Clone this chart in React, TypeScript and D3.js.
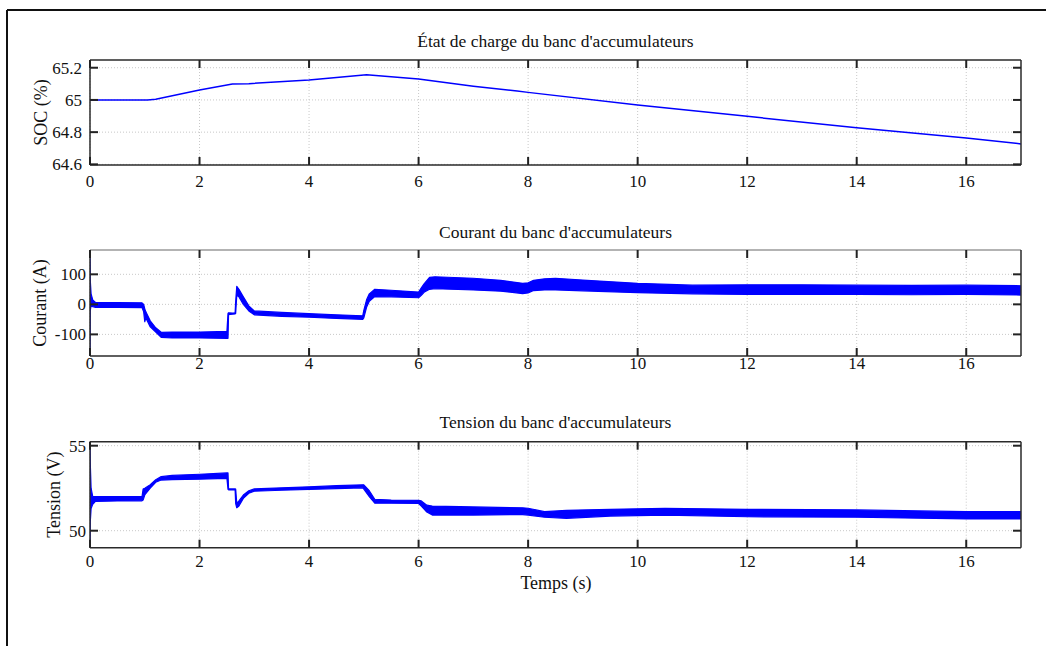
import React from "react";
import * as d3 from "d3";

// ---------- Data ----------
const xTicks = [0, 2, 4, 6, 8, 10, 12, 14, 16];

// SOC (%)
const socTime = [0, 1.05, 1.2, 2, 2.6, 2.9, 4, 5.05, 6, 7, 7.8, 8, 10, 12, 14, 16, 17];
const socValue = [65.0, 65.0, 65.005, 65.062, 65.099, 65.101, 65.124, 65.157, 65.13, 65.085, 65.055, 65.047, 64.969, 64.898, 64.828, 64.764, 64.727];
const socTicks = [64.6, 64.8, 65, 65.2];
const socTickLabels = ["64.6", "64.8", "65", "65.2"];

// Current (A): envelope of the noisy signal
const curTime = [0, 0.005, 0.02, 0.05, 0.1, 0.5, 0.95, 0.98, 1.0, 1.02, 1.1, 1.2, 1.3, 1.5, 2.0, 2.5, 2.52, 2.53, 2.6, 2.65, 2.66, 2.68, 2.72, 2.8, 2.9, 3.0, 3.5, 4.0, 4.5, 4.98, 5.0, 5.05, 5.1, 5.2, 5.5, 6.0, 6.05, 6.1, 6.2, 6.3, 7.0, 7.5, 7.9, 8.0, 8.1, 8.3, 8.5, 9.0, 10.0, 11.0, 12.0, 13.0, 14.0, 15.0, 16.0, 17.0];
const curLow = [-172, -20, -5, -8, -10, -10, -11, -25, -58, -45, -75, -92, -110, -112, -112, -113, -113, -34, -33, -32, -30, 30, 25, 0, -22, -35, -40, -43, -47, -50, -45, -10, 10, 26, 25, 22, 30, 40, 50, 52, 48, 44, 36, 38, 46, 48, 48, 45, 39, 35, 33, 33, 33, 32, 33, 31];
const curHigh = [181, 80, 35, 15, 6, 6, 5, 0, -15, -25, -55, -78, -93, -92, -92, -90, -30, -28, -29, -28, 10, 60, 50, 25, -5, -22, -27, -31, -35, -38, -20, 15, 35, 50, 47, 41, 55, 68, 90, 92, 87, 80, 70, 72, 80, 85, 87, 81, 70, 64, 65, 65, 64, 63, 64, 62];
const curTicks = [-100, 0, 100];
const curTickLabels = ["-100", "0", "100"];

// Voltage (V): envelope of the noisy signal
const volTime = [0, 0.005, 0.02, 0.05, 0.1, 0.5, 0.95, 0.97, 1.0, 1.1, 1.2, 1.3, 1.5, 2.0, 2.5, 2.52, 2.53, 2.65, 2.66, 2.68, 2.72, 2.8, 2.9, 3.0, 3.5, 4.0, 4.5, 4.98, 5.0, 5.1, 5.2, 5.5, 6.0, 6.05, 6.15, 6.25, 7.0, 7.9, 8.0, 8.3, 8.7, 9.5, 10.5, 12.0, 14.0, 16.0, 17.0];
const volLow = [49.0, 50.5, 51.3, 51.55, 51.72, 51.75, 51.76, 51.8, 52.1, 52.5, 52.85, 52.98, 53.0, 53.03, 53.08, 52.43, 52.4, 52.4, 51.6, 51.35, 51.45, 51.9, 52.2, 52.32, 52.38, 52.43, 52.48, 52.52, 52.45, 52.0, 51.62, 51.62, 51.6, 51.45, 51.1, 50.92, 50.92, 50.95, 50.92, 50.79, 50.73, 50.86, 50.92, 50.82, 50.79, 50.69, 50.69];
const volHigh = [55.2, 54.0, 52.5, 52.0, 52.0, 52.0, 52.0, 52.45, 52.5, 52.7, 53.0, 53.18, 53.25, 53.32, 53.4, 53.4, 52.46, 52.46, 52.45, 51.6, 51.75, 52.1, 52.35, 52.46, 52.52, 52.58, 52.65, 52.7, 52.7, 52.35, 51.85, 51.8, 51.78, 51.75, 51.5, 51.45, 51.4, 51.35, 51.32, 51.12, 51.2, 51.26, 51.32, 51.26, 51.22, 51.12, 51.12];
const volTicks = [50, 55];
const volTickLabels = ["50", "55"];

const titles = [
  "État de charge du banc d'accumulateurs",
  "Courant du banc d'accumulateurs",
  "Tension du banc d'accumulateurs",
];
const yLabels = ["SOC (%)", "Courant (A)", "Tension (V)"];
const xLabel = "Temps (s)";

// ---------- Layout ----------
const W = 1046;
const H = 646;
const left = 90;
const right = 1021;
const FONT = "'Liberation Serif', 'Times New Roman', Times, serif";
const BLUE = "#0000ff";

type Panel = {
  top: number;
  bottom: number;
  domain: [number, number];
  ticks: number[];
  tickLabels: string[];
  titleY: number;
  xLabelY: number;
  yLabelX: number;
  yTickX: number;
  topBorder: string;
};

const panels: Panel[] = [
  { top: 60, bottom: 165, domain: [64.596, 65.248], ticks: socTicks, tickLabels: socTickLabels, titleY: 47, xLabelY: 186.5, yLabelX: 41, yTickX: 82, topBorder: "#2a2a2a" },
  { top: 250, bottom: 356, domain: [-172, 181], ticks: curTicks, tickLabels: curTickLabels, titleY: 237.5, xLabelY: 368.5, yLabelX: 40, yTickX: 86, topBorder: "#9a9a9a" },
  { top: 441.7, bottom: 547.7, domain: [49.0, 55.235], ticks: volTicks, tickLabels: volTickLabels, titleY: 427.5, xLabelY: 567, yLabelX: 54.5, yTickX: 86, topBorder: "#2a2a2a" },
];

const x = d3.scaleLinear().domain([0, 17]).range([left, right]);

function Axes({ p, idx, children }: { p: Panel; idx: number; children: any }) {
  const y = d3.scaleLinear().domain(p.domain).range([p.bottom, p.top]);
  const tl = 8;
  const cy = (p.top + p.bottom) / 2;
  return (
    <g>
      <defs>
        <clipPath id={"clip" + idx}>
          <rect x={left} y={p.top} width={right - left} height={p.bottom - p.top} />
        </clipPath>
      </defs>
      {/* grid */}
      {xTicks.map((t) => (
        <line key={"gx" + t} x1={x(t)} x2={x(t)} y1={p.top} y2={p.bottom} stroke="#c8c8c8" strokeWidth={1} strokeDasharray="1,2" />
      ))}
      {p.ticks.map((v) => (
        <line key={"gy" + v} x1={left} x2={right} y1={y(v)} y2={y(v)} stroke="#c8c8c8" strokeWidth={1} strokeDasharray="1,2" />
      ))}
      {/* data */}
      <g clipPath={`url(#clip${idx})`}>{children(y)}</g>
      {/* frame */}
      <line x1={left} x2={right} y1={p.top} y2={p.top} stroke={p.topBorder} strokeWidth={1.5} />
      <line x1={left} x2={right} y1={p.bottom} y2={p.bottom} stroke="#2a2a2a" strokeWidth={1.5} />
      <line x1={left} x2={left} y1={p.top} y2={p.bottom} stroke="#2a2a2a" strokeWidth={1.5} />
      <line x1={right} x2={right} y1={p.top} y2={p.bottom} stroke="#2a2a2a" strokeWidth={1.5} />
      {/* ticks */}
      {xTicks.map((t) => (
        <g key={"tx" + t}>
          <line x1={x(t)} x2={x(t)} y1={p.bottom} y2={p.bottom - tl} stroke="#222" strokeWidth={2} />
          <line x1={x(t)} x2={x(t)} y1={p.top} y2={p.top + tl} stroke="#222" strokeWidth={2} />
          <text x={x(t)} y={p.xLabelY} textAnchor="middle" fontSize={17} fontFamily={FONT} fill="#111">
            {t}
          </text>
        </g>
      ))}
      {p.ticks.map((v, i) => (
        <g key={"ty" + v}>
          <line x1={left} x2={left + tl} y1={y(v)} y2={y(v)} stroke="#222" strokeWidth={2} />
          <line x1={right} x2={right - tl} y1={y(v)} y2={y(v)} stroke="#222" strokeWidth={2} />
          <text x={p.yTickX} y={y(v)} dy="0.35em" textAnchor="end" fontSize={17} fontFamily={FONT} fill="#111">
            {p.tickLabels[i]}
          </text>
        </g>
      ))}
      <text x={(left + right) / 2} y={p.titleY} textAnchor="middle" fontSize={17.5} fontFamily={FONT} fill="#111">
        {titles[idx]}
      </text>
      <text
        transform={`translate(${p.yLabelX},${cy}) rotate(-90)`}
        textAnchor="middle"
        dy="0.32em"
        fontSize={18}
        fontFamily={FONT}
        fill="#111"
      >
        {yLabels[idx]}
      </text>
    </g>
  );
}

type Env = { t: number; lo: number; hi: number };
function zipEnv(ts: number[], lo: number[], hi: number[]): Env[] {
  return ts.map((t, i) => ({ t, lo: lo[i], hi: hi[i] }));
}

export default function App() {
  const socData = socTime.map((t, i) => ({ t, v: socValue[i] }));
  const curData = zipEnv(curTime, curLow, curHigh);
  const volData = zipEnv(volTime, volLow, volHigh);

  const renderLine = (y: d3.ScaleLinear<number, number>) => {
    const line = d3
      .line<{ t: number; v: number }>()
      .x((d) => x(d.t))
      .y((d) => y(d.v));
    return <path d={line(socData) || ""} fill="none" stroke={BLUE} strokeWidth={1.5} />;
  };
  const renderEnv = (data: Env[]) => (y: d3.ScaleLinear<number, number>) => {
    const area = d3
      .area<Env>()
      .x((d) => x(d.t))
      .y0((d) => y(d.lo))
      .y1((d) => y(d.hi));
    return <path d={area(data) || ""} fill={BLUE} stroke={BLUE} strokeWidth={1.2} strokeLinejoin="round" />;
  };

  return (
    <svg
      width={W}
      height={H}
      viewBox={`0 0 ${W} ${H}`}
      style={{ position: "absolute", left: 0, top: 0, background: "#fff" }}
    >
      <rect x={0} y={0} width={W} height={H} fill="#fff" />
      {/* outer frame */}
      <line x1={7} x2={W} y1={10} y2={10} stroke="#111" strokeWidth={2} />
      <line x1={7} x2={7} y1={10} y2={H} stroke="#111" strokeWidth={2} />
      <Axes p={panels[0]} idx={0}>{renderLine}</Axes>
      <Axes p={panels[1]} idx={1}>{renderEnv(curData)}</Axes>
      <Axes p={panels[2]} idx={2}>{renderEnv(volData)}</Axes>
      <text x={556} y={589} textAnchor="middle" fontSize={18} fontFamily={FONT} fill="#111">
        {xLabel}
      </text>
    </svg>
  );
}
